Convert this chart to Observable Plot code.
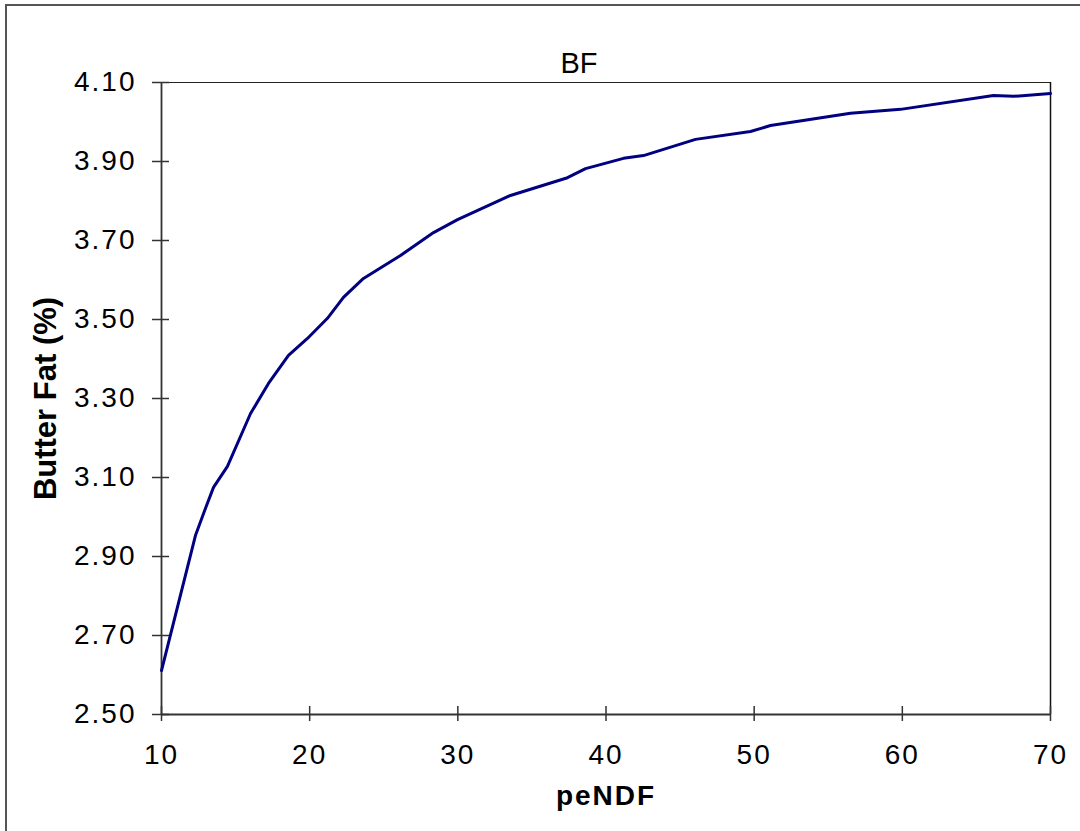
<!DOCTYPE html>
<html>
<head>
<meta charset="utf-8">
<script src="https://cdn.jsdelivr.net/npm/d3@7"></script>
<script src="https://cdn.jsdelivr.net/npm/@observablehq/plot@0.6"></script>
<style>
  html, body { margin: 0; padding: 0; background: #fff; }
  #wrap { position: relative; width: 1080px; height: 831px; overflow: hidden; }
  #border { position: absolute; left: 5px; top: 4px; width: 1100px; height: 900px; border-left: 2px solid #555; border-top: 2px solid #555; box-sizing: border-box; pointer-events: none; }
  #chart { position: absolute; left: 0; top: 0; }
</style>
</head>
<body>
<div id="wrap"><div id="chart"></div><div id="border"></div></div>
<script>
const peNDF = [10.0, 12.29, 12.97, 13.51, 14.45, 16.01, 17.22, 18.57, 19.85, 21.20, 22.28, 23.63, 26.13, 28.36, 29.98, 33.55, 37.40, 38.62, 41.18, 42.53, 46.04, 49.75, 51.10, 56.50, 59.88, 66.15, 67.50, 70.0];
const butterFat = [2.611, 2.953, 3.022, 3.075, 3.128, 3.262, 3.338, 3.409, 3.452, 3.503, 3.556, 3.604, 3.662, 3.720, 3.753, 3.814, 3.859, 3.882, 3.908, 3.915, 3.956, 3.976, 3.991, 4.022, 4.032, 4.067, 4.065, 4.072];
const yTicks = [2.5, 2.7, 2.9, 3.1, 3.3, 3.5, 3.7, 3.9, 4.1];
const xTicks = [10, 20, 30, 40, 50, 60, 70];
const title = "BF";
const xLabel = "peNDF";
const yLabel = "Butter Fat (%)";

const data = peNDF.map((x, i) => ({x, y: butterFat[i]}));

const chart = Plot.plot({
  width: 1080,
  height: 831,
  marginLeft: 161,
  marginRight: 30,
  marginTop: 82,
  marginBottom: 117,
  style: {fontFamily: "'Liberation Sans', Arial, sans-serif", fontSize: "28px", color: "black", background: "transparent", overflow: "visible"},
  x: {domain: [10, 70]},
  y: {domain: [2.5, 4.1]},
  marks: [
    Plot.ruleY([4.1], {stroke: "#222", strokeWidth: 1.2}),
    Plot.ruleX([70], {stroke: "#111", strokeWidth: 1.5}),
    Plot.ruleX([10], {stroke: "#333", strokeWidth: 1.8}),
    Plot.ruleY([2.5], {stroke: "#333", strokeWidth: 2}),
    Plot.axisY({ticks: yTicks, tickFormat: d3.format(".2f"), tickSize: 17, dx: 8, tickPadding: 16, label: null, stroke: "#333", strokeWidth: 1.5, fontSize: 28}),
    Plot.axisX({ticks: xTicks, tickFormat: d => d, tickSize: 15, dy: -8, tickPadding: 23, label: null, stroke: "#333", strokeWidth: 1.5, fontSize: 28}),
    Plot.line(data, {x: "x", y: "y", stroke: "#000080", strokeWidth: 3}),
    Plot.text([title], {frameAnchor: "top", dx: -27, dy: -19, lineAnchor: "middle", fontSize: 29, fill: "black"}),
    Plot.text([xLabel], {frameAnchor: "bottom", dy: 82, lineAnchor: "middle", fontSize: 28, fontWeight: "bold", fill: "black"}),
    Plot.text([yLabel], {frameAnchor: "left", dx: -115, rotate: -90, lineAnchor: "middle", textAnchor: "middle", fontSize: 31, fontWeight: "bold", fill: "black"})
  ]
});
d3.select(chart).selectAll("g[aria-label='y-axis tick label'] text, g[aria-label='x-axis tick label'] text").style("letter-spacing", "2px");
d3.select(chart).selectAll("g[aria-label='text'] text").filter(function() { return this.textContent === xLabel; }).style("letter-spacing", "2px");
document.getElementById("chart").appendChild(chart);
</script>
</body>
</html>
